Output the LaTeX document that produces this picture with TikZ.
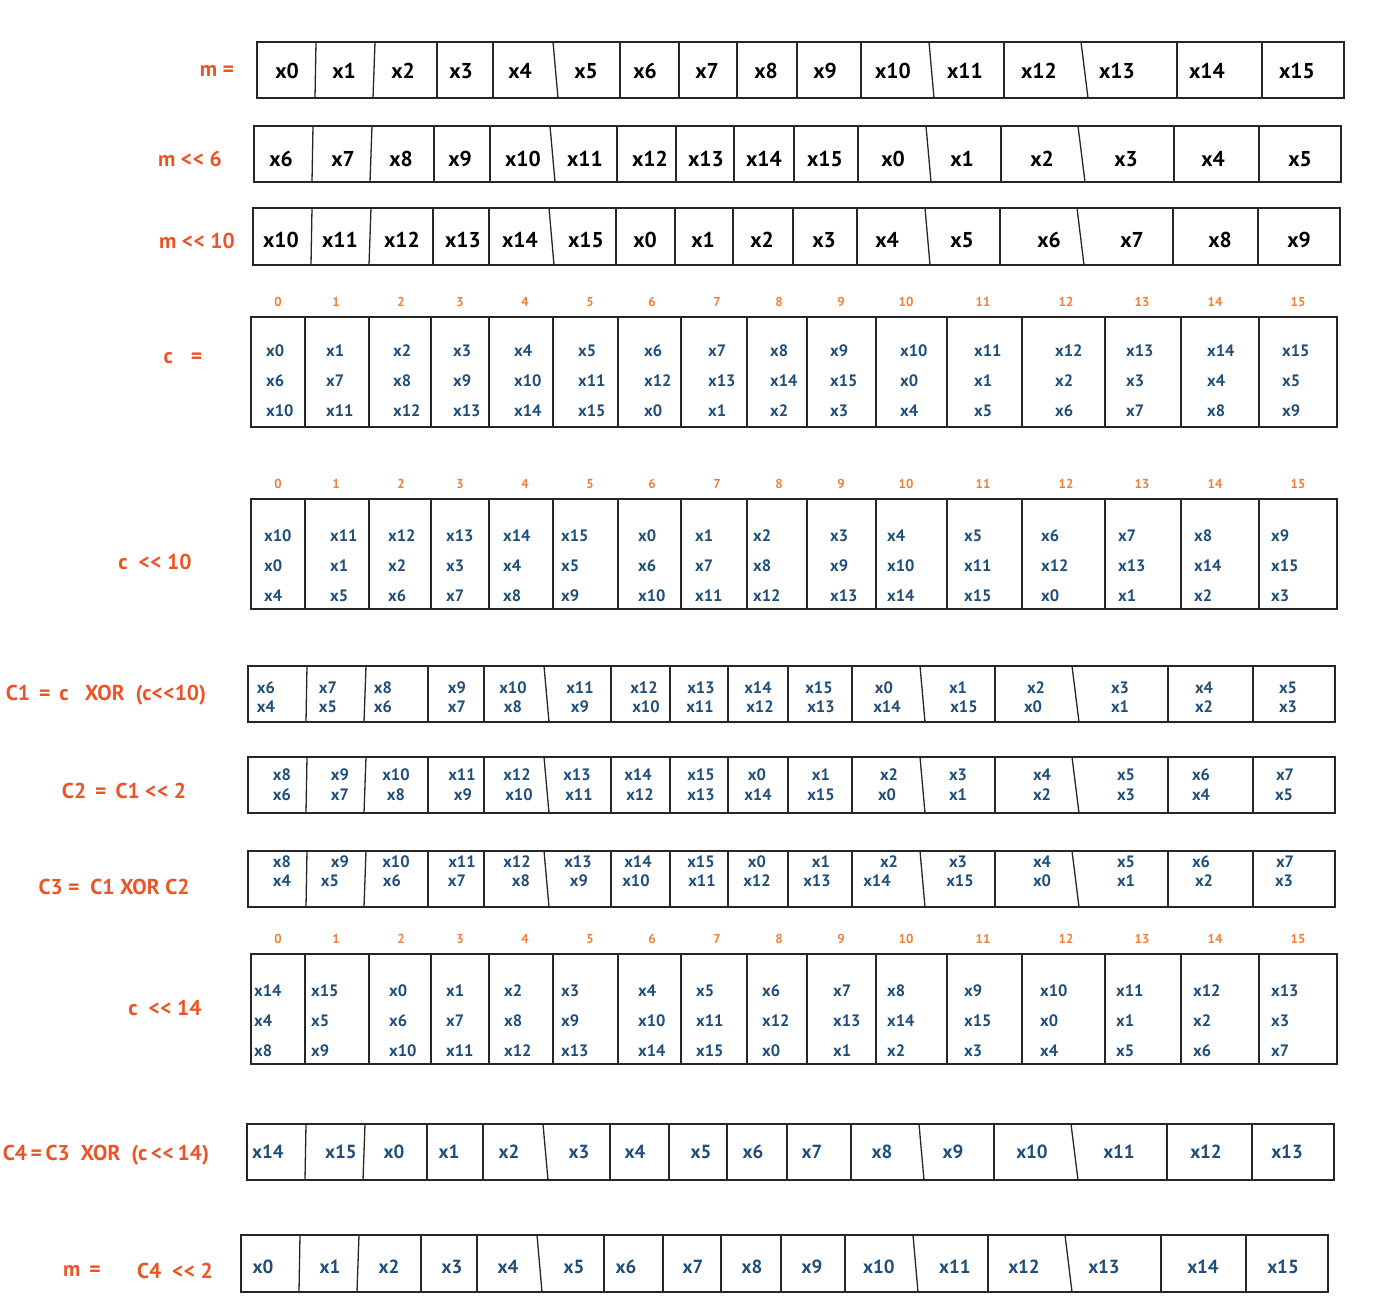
\documentclass[tikz,border=0pt]{standalone}
\usepackage{fontspec}
\setmainfont{PT Sans}
\usepackage{xcolor}
\definecolor{regRed}{HTML}{EC5428}
\definecolor{regOrange}{HTML}{F07F35}
\definecolor{regBlue}{HTML}{1F4E79}
\usepackage{tikz}

\newcommand{\shl}{<\kern0.5pt<}

% 16 one-word cells, dividers given as top/bottom offsets
\newcommand{\wordrow}[3]{%
  \draw[boxline] (#1,#2) rectangle ++(1087,#3);
  \foreach \t/\b in {59/58,118/116,180/180,236/236,296/301,363/363,422/422,480/480,
                     540/540,604/604,672/677,747/747,824/831,920/920,1005/1005}
    \draw[boxline] ({#1+\t},#2) -- ({#1+\b},{#2+#3});
}
% 16 state cells with index numbers on top
\newcommand{\staterow}[2]{%
  \draw[boxline] (251,#1) rectangle (1337,{#1+110});
  \foreach \d in {305,369,431,489,553,618,681,747,807,876,947,1022,1105,1181,1259}
    \draw[boxline] (\d,#1) -- (\d,{#1+110});
  \foreach \x [count=\i from 0] in {278,336,401,460,525,590,652,717,779,841,906,983,1066,1142,1215,1298}
    \node[idx] (#2\i) at (\x,{#1-15}) {\i};
}

\begin{document}
\begin{tikzpicture}[x=1pt,y=-1pt,
  boxline/.style={line width=1.3pt, black!85},
  lbl/.style={text=regRed, font=\fontsize{21.5}{25}\selectfont\bfseries, inner sep=0pt},
  idx/.style={text=regOrange, font=\fontsize{13}{15}\selectfont\bfseries, inner sep=0pt},
  plainword/.style={font=\fontsize{21.5}{25}\selectfont\bfseries, inner sep=0pt},
  word/.style={text=regBlue, font=\fontsize{19}{22}\selectfont\bfseries, inner sep=0pt},
  pairword/.style={text=regBlue, font=\fontsize{16.5}{19}\selectfont\bfseries, inner sep=0pt},
  stateword/.style={text=regBlue, font=\fontsize{16.5}{30}\selectfont\bfseries, inner sep=0pt,
                    align=left, anchor=west}]
  \useasboundingbox (0,0) rectangle (1374,1313);

  % ------- m, m<<6, m<<10 -------
  \node[lbl] (lm) at (217,71) {m =};
  \wordrow{257}{42}{56}
  \foreach \x [count=\i from 0] in {287,344,403,461,520,586,645,707,766,825,893,965,1039,1117,1207,1297}
    \node[plainword] (m\i) at (\x,71) {x\i};

  \node[lbl] (lms) at (190,159) {m \shl\ 6};
  \wordrow{254}{126}{56}
  \foreach \x [count=\i from 0] in {281,343,401,460,523,585,650,706,764,825,893,962,1042,1126,1213,1300} {
    \pgfmathtruncatemacro\k{mod(\i+6,16)}
    \node[plainword] (ms\i) at (\x,159) {x\k};
  }

  \node[lbl] (lmt) at (197,241) {m \shl\ 10};
  \wordrow{253}{208}{57}
  \foreach \x [count=\i from 0] in {281,340,402,463,520,586,645,703,762,824,887,962,1049,1132,1220,1299} {
    \pgfmathtruncatemacro\k{mod(\i+10,16)}
    \node[plainword] (mt\i) at (\x,240) {x\k};
  }

  % ------- c and c<<10 -------
  \node[lbl] (lc) at (183,358) {c\hspace{18pt}=};
  \staterow{317}{ci}
  \foreach \x [count=\i from 0] in {266,326,393,453,514,578,644,708,770,830,900,974,1055,1126,1207,1282} {
    \pgfmathtruncatemacro\j{mod(\i+6,16)}
    \pgfmathtruncatemacro\k{mod(\i+10,16)}
    \node[stateword] (c\i) at (\x,381) {x\i\\x\j\\x\k};
  }

  \node[lbl] (lcs) at (155,562) {c \ \shl\ 10};
  \staterow{499}{csi}
  \foreach \x [count=\i from 0] in {264,330,388,446,503,561,638,695,753,830,887,964,1041,1118,1194,1271} {
    \pgfmathtruncatemacro\h{mod(\i+10,16)}
    \pgfmathtruncatemacro\k{mod(\i+4,16)}
    \node[stateword] (cs\i) at (\x,566) {x\h\\x\i\\x\k};
  }

  % ------- C1, C2, C3 -------
  \node[lbl] (lca) at (106,695) {C1 \,=\, c \ \ XOR \ (c\shl10)};
  \wordrow{248}{666}{56}
  \foreach \a/\b [count=\i from 0] in {266/266,328/328,383/383,457/457,513/513,580/580,644/646,701/700,
                                       758/760,819/821,884/887,958/964,1036/1033,1120/1120,1204/1204,1288/1288} {
    \pgfmathtruncatemacro\j{mod(\i+6,16)}
    \pgfmathtruncatemacro\k{mod(\i+4,16)}
    \node[pairword] (caa\i) at (\a,688) {x\j};
    \node[pairword] (cab\i) at (\b,707) {x\k};
  }

  \node[lbl] (lcb) at (124,791) {C2 \,=\, C1 \shl\ 2};
  \wordrow{248}{757}{56}
  \foreach \a/\b [count=\i from 0] in {282/282,340/340,396/396,462/463,517/519,577/579,638/640,701/701,
                                       757/758,821/821,889/887,958/958,1042/1042,1126/1126,1201/1201,1285/1284} {
    \pgfmathtruncatemacro\j{mod(\i+8,16)}
    \pgfmathtruncatemacro\k{mod(\i+6,16)}
    \node[pairword] (cba\i) at (\a,775) {x\j};
    \node[pairword] (cbb\i) at (\b,795) {x\k};
  }

  \node[lbl] (lcc) at (114,887) {C3 = \ C1 XOR C2};
  \wordrow{248}{851}{56}
  \foreach \a/\b [count=\i from 0] in {282/282,340/330,396/392,462/457,517/521,578/579,638/636,701/702,
                                       757/757,821/817,889/877,958/960,1042/1042,1126/1126,1201/1204,1285/1284} {
    \pgfmathtruncatemacro\j{mod(\i+8,16)}
    \pgfmathtruncatemacro\k{mod(\i+4,16)}
    \node[pairword] (cca\i) at (\a,862) {x\j};
    \node[pairword] (ccb\i) at (\b,881) {x\k};
  }

  % ------- c<<14 -------
  \node[lbl] (lcf) at (165,1008) {c \ \shl\ 14};
  \staterow{954}{cfi}
  \foreach \x [count=\i from 0] in {254,311,389,446,504,561,638,696,762,833,887,964,1040,1116,1193,1271} {
    \pgfmathtruncatemacro\h{mod(\i+14,16)}
    \pgfmathtruncatemacro\j{mod(\i+4,16)}
    \pgfmathtruncatemacro\k{mod(\i+8,16)}
    \node[stateword] (cf\i) at (\x,1021) {x\h\\x\j\\x\k};
  }

  % ------- C4 and m back -------
  \node[lbl] (lcd) at (106,1155) {C4\,=\,C3 \ XOR \ (c\,\shl\,14)};
  \wordrow{247}{1124}{56}
  \foreach \x [count=\i from 0] in {268,341,394,449,509,579,635,701,753,812,882,953,1032,1119,1206,1287} {
    \pgfmathtruncatemacro\k{mod(\i+14,16)}
    \node[word] (cd\i) at (\x,1152) {x\k};
  }

  \node[lbl] (lmf) at (82,1271) {m \,=};
  \node[lbl] (lmg) at (175,1271) {C4 \ \shl\ 2};
  \wordrow{241}{1235}{57}
  \foreach \x [count=\i from 0] in {263,330,389,452,508,574,626,693,752,812,879,955,1024,1104,1203,1283}
    \node[word] (mf\i) at (\x,1267) {x\i};
\end{tikzpicture}
\end{document}
